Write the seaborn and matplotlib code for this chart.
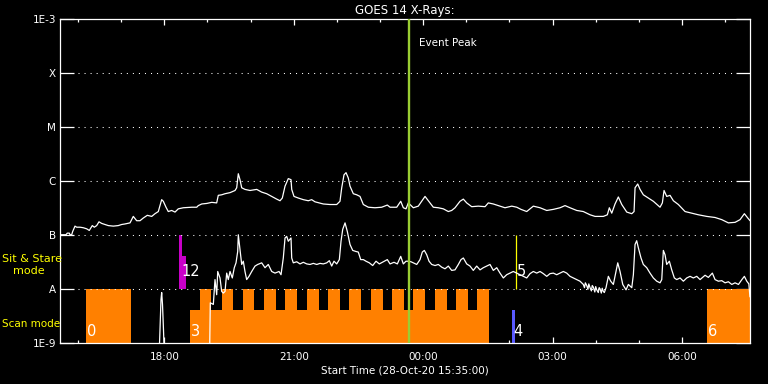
import numpy as np
import matplotlib
matplotlib.use("Agg")
import matplotlib.pyplot as plt
import matplotlib.ticker as mticker
import seaborn as sns

# ---------------- data (time in hours since 00:00 28-Oct-20, flux as log10 W/m^2) ----
long_t = [15.583, 15.722, 15.752, 15.799, 15.815, 15.854, 15.877, 15.931, 15.970, 16.047,
          16.123, 16.202, 16.262, 16.332, 16.378, 16.434, 16.487, 16.550, 16.626, 16.703,
          16.819, 16.934, 17.013, 17.090, 17.206, 17.282, 17.361, 17.437, 17.514, 17.607,
          17.709, 17.785, 17.862, 17.940, 17.978, 18.040, 18.093, 18.172, 18.249, 18.325,
          18.441, 18.636, 18.752, 18.789, 18.868, 18.984, 19.100, 19.215, 19.252, 19.331,
          19.408, 19.524, 19.640, 19.679, 19.716, 19.755, 19.795, 19.871, 19.987, 20.143,
          20.258, 20.374, 20.490, 20.606, 20.683, 20.736, 20.799, 20.875, 20.938, 20.954,
          21.007, 21.107, 21.223, 21.339, 21.417, 21.494, 21.686, 21.842, 21.997, 22.073,
          22.113, 22.166, 22.213, 22.266, 22.305, 22.382, 22.461, 22.537, 22.614, 22.730,
          22.885, 23.040, 23.170, 23.233, 23.388, 23.481, 23.541, 23.603, 23.657, 23.773,
          23.888, 24.044, 24.120, 24.236, 24.352, 24.468, 24.584, 24.662, 24.739, 24.855,
          24.932, 25.010, 25.126, 25.279, 25.435, 25.511, 25.627, 25.782, 25.898, 26.054,
          26.170, 26.269, 26.401, 26.554, 26.710, 26.865, 27.018, 27.173, 27.289, 27.405,
          27.560, 27.713, 27.869, 27.985, 28.177, 28.270, 28.316, 28.372, 28.448, 28.525,
          28.604, 28.720, 28.836, 28.889, 28.912, 28.974, 29.028, 29.104, 29.220, 29.336,
          29.491, 29.545, 29.584, 29.646, 29.723, 29.800, 29.916, 30.071, 30.226, 30.379,
          30.574, 30.766, 30.922, 31.075, 31.230, 31.346, 31.446, 31.525, 31.578]
long_log = [-6.99, -6.99, -6.96, -6.96, -6.99, -6.99, -6.93, -6.83, -6.85, -6.85,
            -6.86, -6.88, -6.91, -6.82, -6.85, -6.82, -6.75, -6.78, -6.80, -6.82,
            -6.83, -6.82, -6.80, -6.79, -6.77, -6.65, -6.73, -6.73, -6.68, -6.63,
            -6.65, -6.60, -6.56, -6.34, -6.37, -6.48, -6.56, -6.54, -6.57, -6.51,
            -6.49, -6.48, -6.48, -6.45, -6.42, -6.41, -6.39, -6.40, -6.26, -6.25,
            -6.23, -6.21, -6.17, -6.12, -5.86, -5.97, -6.12, -6.15, -6.17, -6.15,
            -6.20, -6.23, -6.28, -6.33, -6.36, -6.31, -6.09, -5.95, -5.97, -6.15,
            -6.28, -6.31, -6.34, -6.36, -6.34, -6.38, -6.42, -6.43, -6.43, -6.37,
            -6.12, -5.88, -5.84, -5.94, -6.09, -6.23, -6.25, -6.28, -6.43, -6.48,
            -6.49, -6.48, -6.44, -6.48, -6.48, -6.37, -6.49, -6.51, -6.40, -6.49,
            -6.46, -6.28, -6.36, -6.48, -6.49, -6.51, -6.56, -6.54, -6.49, -6.37,
            -6.33, -6.40, -6.47, -6.46, -6.47, -6.40, -6.42, -6.46, -6.49, -6.46,
            -6.48, -6.52, -6.56, -6.46, -6.49, -6.54, -6.52, -6.49, -6.45, -6.49,
            -6.54, -6.56, -6.62, -6.65, -6.65, -6.62, -6.49, -6.59, -6.42, -6.29,
            -6.43, -6.57, -6.60, -6.56, -6.12, -6.05, -6.15, -6.25, -6.31, -6.37,
            -6.48, -6.40, -6.17, -6.28, -6.26, -6.36, -6.43, -6.56, -6.59, -6.62,
            -6.65, -6.67, -6.71, -6.77, -6.76, -6.71, -6.60, -6.68, -6.73]

short_t = [15.583, 17.878, 17.924, 17.940, 17.959, 17.982, 18.005, 19.049, 19.067, 19.137,
           19.176, 19.215, 19.239, 19.292, 19.331, 19.369, 19.408, 19.447, 19.484, 19.524,
           19.577, 19.623, 19.663, 19.702, 19.716, 19.755, 19.795, 19.832, 19.871, 19.910,
           19.964, 20.027, 20.103, 20.166, 20.258, 20.335, 20.411, 20.490, 20.567, 20.660,
           20.706, 20.759, 20.799, 20.838, 20.875, 20.938, 20.954, 20.991, 21.070, 21.146,
           21.223, 21.302, 21.378, 21.455, 21.534, 21.610, 21.686, 21.765, 21.826, 21.881,
           21.934, 21.997, 22.058, 22.097, 22.136, 22.190, 22.243, 22.305, 22.368, 22.444,
           22.497, 22.553, 22.614, 22.676, 22.753, 22.831, 22.908, 22.985, 23.077, 23.170,
           23.233, 23.325, 23.402, 23.481, 23.541, 23.603, 23.657, 23.719, 23.773, 23.852,
           23.928, 23.981, 24.028, 24.083, 24.137, 24.199, 24.276, 24.352, 24.431, 24.507,
           24.584, 24.662, 24.739, 24.816, 24.878, 24.932, 25.010, 25.087, 25.163, 25.242,
           25.319, 25.395, 25.474, 25.550, 25.627, 25.706, 25.782, 25.859, 25.937, 26.014,
           26.090, 26.170, 26.246, 26.323, 26.401, 26.478, 26.554, 26.633, 26.710, 26.786,
           26.865, 26.941, 27.018, 27.096, 27.173, 27.250, 27.328, 27.405, 27.481, 27.560,
           27.636, 27.713, 27.740, 27.760, 27.792, 27.820, 27.840, 27.869, 27.900, 27.920,
           27.945, 27.980, 28.000, 28.024, 28.060, 28.080, 28.100, 28.130, 28.150, 28.177,
           28.200, 28.239, 28.293, 28.348, 28.409, 28.471, 28.511, 28.564, 28.627, 28.703,
           28.757, 28.836, 28.873, 28.912, 28.950, 28.988, 29.050, 29.104, 29.183, 29.259,
           29.336, 29.415, 29.491, 29.531, 29.568, 29.607, 29.646, 29.707, 29.762, 29.823,
           29.878, 29.955, 30.032, 30.110, 30.187, 30.263, 30.342, 30.419, 30.535, 30.611,
           30.704, 30.766, 30.843, 30.922, 30.999, 31.075, 31.154, 31.230, 31.309, 31.388,
           31.446, 31.502, 31.550, 31.575]
short_log = [-9.5, -9.3, -8.19, -8.06, -8.28, -8.75, -9.3, -9.3, -8.25, -8.28,
             -7.82, -8.10, -7.67, -7.79, -8.04, -8.07, -8.04, -7.70, -7.82, -7.67,
             -7.79, -7.60, -7.51, -7.30, -6.99, -7.26, -7.54, -7.48, -7.67, -7.82,
             -7.76, -7.67, -7.57, -7.54, -7.51, -7.60, -7.54, -7.67, -7.70, -7.67,
             -7.73, -7.42, -7.05, -7.02, -7.11, -7.05, -7.42, -7.51, -7.49, -7.53,
             -7.50, -7.53, -7.54, -7.52, -7.54, -7.52, -7.53, -7.51, -7.47, -7.57,
             -7.48, -7.53, -7.45, -7.11, -6.89, -6.77, -6.93, -7.17, -7.28, -7.30,
             -7.31, -7.45, -7.45, -7.48, -7.51, -7.56, -7.48, -7.53, -7.49, -7.45,
             -7.53, -7.50, -7.53, -7.39, -7.53, -7.48, -7.48, -7.49, -7.51, -7.54,
             -7.45, -7.31, -7.28, -7.36, -7.48, -7.54, -7.56, -7.54, -7.59, -7.62,
             -7.57, -7.65, -7.64, -7.54, -7.45, -7.42, -7.53, -7.57, -7.65, -7.57,
             -7.64, -7.60, -7.57, -7.54, -7.65, -7.60, -7.70, -7.79, -7.73, -7.70,
             -7.67, -7.70, -7.73, -7.76, -7.79, -7.71, -7.67, -7.70, -7.67, -7.71,
             -7.76, -7.71, -7.70, -7.73, -7.70, -7.67, -7.70, -7.76, -7.79, -7.82,
             -7.85, -7.91, -7.97, -7.88, -7.93, -8.00, -7.90, -7.97, -8.03, -7.93,
             -7.96, -8.05, -7.95, -8.01, -8.06, -7.97, -7.99, -8.07, -7.98, -8.04,
             -8.06, -7.97, -7.76, -7.85, -7.91, -7.67, -7.51, -7.67, -7.91, -8.01,
             -7.91, -7.97, -7.73, -7.17, -7.10, -7.23, -7.42, -7.54, -7.60, -7.70,
             -7.79, -7.85, -7.88, -7.82, -7.28, -7.36, -7.54, -7.48, -7.64, -7.79,
             -7.82, -7.79, -7.85, -7.79, -7.76, -7.79, -7.76, -7.82, -7.74, -7.78,
             -7.70, -7.82, -7.85, -7.84, -7.88, -7.86, -7.91, -7.88, -7.91, -7.82,
             -7.76, -7.85, -7.90, -8.14]

# scan-mode blocks (orange)
scan_start = [16.19, 18.60, 30.59]
scan_end = [17.22, 25.53, 31.59]
scan_top = [1e-8, 4.1e-9, 1e-8]
pulse_start = [18.83, 19.34, 19.83, 20.31, 20.80, 21.30, 21.80, 22.28, 22.79, 23.28,
               23.77, 24.27, 24.76, 25.25]
pulse_end = [19.09, 19.59, 20.09, 20.59, 21.08, 21.58, 22.07, 22.56, 23.06, 23.56,
             24.05, 24.55, 25.04, 25.53]
pulse_top = 1e-8
# sit & stare blocks (magenta)
ss_start = [18.34, 18.41]
ss_end = [18.41, 18.50]
ss_top = [1e-7, 4.1e-8]
# other markers
blue_start, blue_end, blue_top = 26.07, 26.13, 4.1e-9
yellow_t = 26.15
event_peak_t = 23.673

mode_labels = ["0", "12", "3", "4", "5", "6"]
mode_label_t = [16.20, 18.39, 18.62, 26.09, 26.17, 30.61]
mode_label_log = [-8.79, -7.67, -8.79, -8.79, -7.67, -8.79]

ytick_vals = [1e-9, 1e-8, 1e-7, 1e-6, 1e-5, 1e-4, 1e-3]
ytick_labels = ["1E-9", "A", "B", "C", "M", "X", "1E-3"]
xmajor = [18, 21, 24, 27, 30]
xminor = [16, 17, 19, 20, 22, 23, 25, 26, 28, 29, 31]
t0, t1 = 15.5833, 31.5833

# ---------------- plot ----------------
sns.set_style("ticks")
plt.rcParams["font.family"] = ["DejaVu Sans"]

fig = plt.figure(figsize=(7.68, 3.84), dpi=100, facecolor="black")
ax = fig.add_axes([60 / 768, 1 - 343.3 / 384, 690.3 / 768, 324 / 384])
ax.set_facecolor("black")

ORANGE = "#ff8000"
for s, e, top in zip(scan_start, scan_end, scan_top):
    ax.bar(s, top - 1e-9, width=e - s, bottom=1e-9, align="edge", color=ORANGE, linewidth=0, zorder=2)
for s, e in zip(pulse_start, pulse_end):
    ax.bar(s, pulse_top - 1e-9, width=e - s, bottom=1e-9, align="edge", color=ORANGE, linewidth=0, zorder=2)
for s, e, top in zip(ss_start, ss_end, ss_top):
    ax.bar(s, top - 1e-8, width=e - s, bottom=1e-8, align="edge", color="#c800c8", linewidth=0, zorder=2)
ax.bar(blue_start, blue_top - 1e-9, width=blue_end - blue_start, bottom=1e-9, align="edge",
       color="#5a5aff", linewidth=0, zorder=2)
ax.vlines(yellow_t, 1e-8, 1e-7, color="#ffff00", lw=0.9, zorder=3)

sns.lineplot(x=np.array(long_t), y=10 ** np.array(long_log), ax=ax, color="white",
             linewidth=0.9, estimator=None, sort=False, zorder=5)
sns.lineplot(x=np.array(short_t), y=10 ** np.array(short_log), ax=ax, color="white",
             linewidth=0.9, estimator=None, sort=False, zorder=5)

ax.set_yscale("log")
ax.set_ylim(1e-9, 1e-3)
ax.set_xlim(t0, t1)

for lvl in ytick_vals[1:-1]:
    ax.axhline(lvl, xmin=0.026, xmax=0.974, color="white", lw=0.75, ls=(0, (1, 4.8)), zorder=4)

ax.axvline(event_peak_t, color="#9acd32", lw=1.7, zorder=6)
ax.annotate("Event Peak", xy=(event_peak_t, 0.928), xycoords=("data", "axes fraction"),
            xytext=(7, 0), textcoords="offset points", color="white", fontsize=7.5,
            ha="left", va="center")

for lab, t, lg in zip(mode_labels, mode_label_t, mode_label_log):
    ax.text(t, 10 ** lg, lab, color="white", fontsize=10.5, ha="left", va="center", zorder=7)

ax.yaxis.set_major_locator(mticker.FixedLocator(ytick_vals))
ax.yaxis.set_major_formatter(mticker.FixedFormatter(ytick_labels))
ax.yaxis.set_minor_locator(mticker.NullLocator())
ax.xaxis.set_major_locator(mticker.FixedLocator(xmajor))
ax.xaxis.set_minor_locator(mticker.FixedLocator(xminor))
ax.xaxis.set_major_formatter(mticker.FuncFormatter(lambda v, p: f"{int(round(v)) % 24:02d}:00"))

ax.tick_params(axis="y", which="major", direction="in", length=10, width=0.9, left=True,
               right=True, colors="white", labelsize=7.5, pad=3)
ax.tick_params(axis="x", which="major", direction="in", length=4.5, width=0.9, top=True,
               bottom=True, colors="white", labelsize=7.5, pad=6)
ax.tick_params(axis="x", which="minor", direction="in", length=2.3, width=0.9, top=True,
               bottom=True, colors="white")
for sp in ax.spines.values():
    sp.set_color("white")
    sp.set_linewidth(0.9)

ax.set_title("GOES 14 X-Rays:", color="white", fontsize=8.5, pad=3.5)
ax.set_xlabel("Start Time (28-Oct-20 15:35:00)", color="white", fontsize=7.5, labelpad=3)
ax.set_ylabel("")

fig.text(2 / 768, 1 - 259 / 384, "Sit & Stare", color="#ffff00", fontsize=8, ha="left", va="center")
fig.text(13 / 768, 1 - 271 / 384, "mode", color="#ffff00", fontsize=8, ha="left", va="center")
fig.text(2 / 768, 1 - 324 / 384, "Scan mode", color="#ffff00", fontsize=7.5, ha="left", va="center")

fig.savefig("out.png", dpi=100, facecolor="black")
